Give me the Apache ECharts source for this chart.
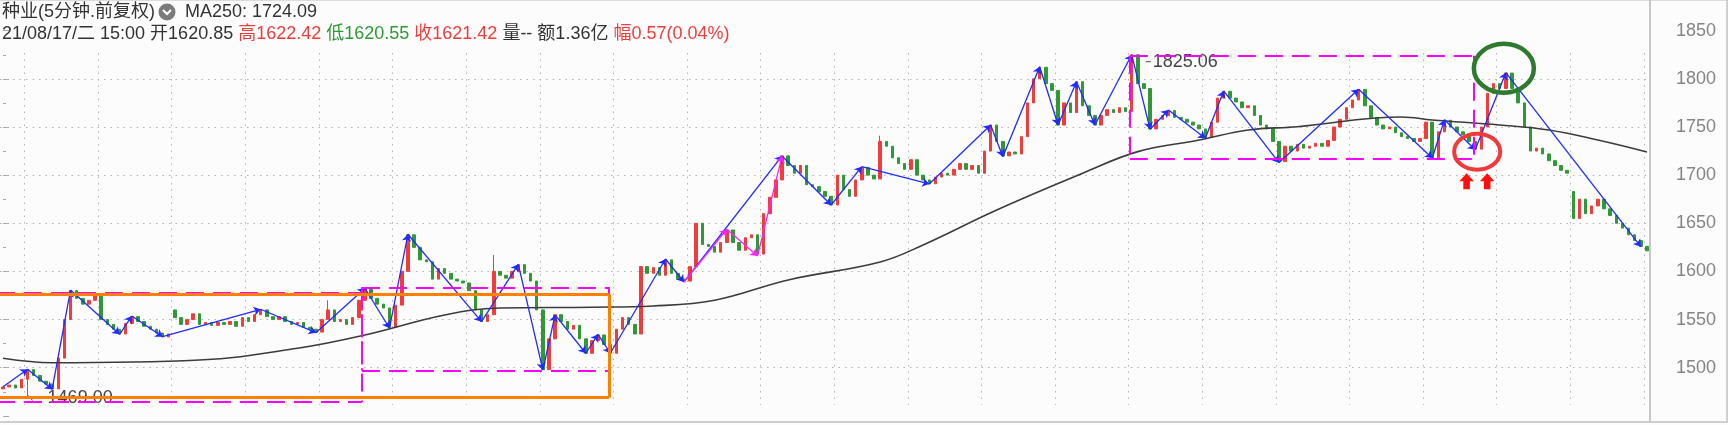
<!DOCTYPE html>
<html><head><meta charset="utf-8">
<script src="https://cdn.jsdelivr.net/npm/echarts@6.0.0/dist/echarts.min.js"></script>
<style>html,body{margin:0;padding:0;background:#fcfcfc}#c{width:1728px;height:425px}</style>
</head><body><div id="c"></div>
<script>
// ---- data (20-minute bars) ----
const firstOpen = 1478;
const closes = [
1480,1482,1479,1488,1498,1492,1486,1483,1478,1510,
1550,1580,1572,1566,1570,1576,1550,1545,1540,1535,
1546,1553,1548,1543,1540,1536,1532,1535,1552,1545,
1550,1556,1545,1547,1544,1547,1545,1548,1543,1552,
1548,1555,1560,1553,1550,1553,1548,1545,1547,1542,
1540,1537,1550,1560,1548,1550,1545,1552,1570,1582,
1572,1566,1562,1542,1565,1600,1638,1625,1612,1610,
1592,1603,1598,1592,1590,1588,1580,1560,1548,1555,
1600,1596,1593,1600,1607,1598,1590,1560,1498,1530,
1555,1548,1540,1544,1530,1515,1528,1534,1524,1515,
1540,1552,1545,1535,1605,1598,1604,1596,1612,1598,
1592,1590,1605,1650,1628,1626,1620,1630,1643,1630,
1622,1635,1638,1618,1660,1677,1695,1720,1710,1702,
1710,1690,1688,1683,1678,1669,1700,1685,1678,1695,
1708,1700,1696,1735,1730,1718,1712,1706,1716,1700,
1695,1691,1698,1702,1700,1706,1712,1706,1710,1702,
1725,1752,1735,1720,1724,1722,1740,1775,1800,1812,
1795,1788,1752,1775,1765,1797,1772,1762,1752,1762,
1768,1765,1770,1766,1825,1795,1790,1748,1758,1762,
1767,1760,1758,1755,1752,1748,1739,1755,1780,1787,
1780,1776,1770,1772,1762,1752,1748,1735,1714,1730,
1725,1732,1728,1730,1733,1730,1736,1750,1758,1770,
1778,1789,1772,1760,1752,1748,1750,1744,1740,1738,
1735,1738,1755,1718,1745,1757,1750,1745,1742,1735,
1727,1750,1785,1795,1790,1806,1790,1775,1750,1725,
1728,1722,1715,1710,1705,1702,1655,1675,1660,1668,
1675,1665,1658,1650,1645,1638,1632,1626,1621.42
];
const openOverrides = [[28,1560],[256,1683]];
const highOverrides = [[53,1570],[80,1617],[143,1741]];
const lowOverrides = [[4,1469]];

// MA250 read at sample bars
const maIdx = [0,8,32,48,59,72,81,96,106,116,128,143,150,162,176,185,195,203,211,228,233,244,252,260,268];
const maVal = [1509.8,1505.2,1508,1520.2,1534,1554.8,1562,1562.8,1564.1,1570,1591.1,1609.8,1627.5,1663.8,1701.9,1724.4,1736.5,1746.9,1750.3,1760.4,1757.3,1752.1,1746.9,1736.5,1724.09];

// blue zigzag vertices
const biIdx = [0,4,8,11,19,21,26,42,51,59,63,66,78,84,88,90,95,97,99,108,111,127,135,140,151,161,163,169,172,175,178,184,187,190,196,199,208,221,233,235,240,245,267];
const biVal = [1480.3,1498.4,1477.6,1580.7,1534.7,1553.7,1532.2,1560.7,1536.4,1582.5,1541,1638.6,1547.8,1607.4,1497.7,1554.8,1515,1534.7,1515,1612.9,1589,1719.9,1669,1708.8,1690.8,1752.1,1719.2,1812.6,1752.1,1797,1752.1,1825.06,1747.6,1767.7,1738.3,1787.4,1712.9,1789.1,1717.8,1757.6,1726.4,1806.4,1625.7];
// magenta sub-zigzag
const subIdx = [111,118,123,127];
const subVal = [1589,1643.8,1616,1720];

// boxes: [startBar, endBar, low, high]
const pinkBoxes = [[-1,58.5,1464.5,1578],[58.5,98.8,1497,1583.5],[183.7,239.8,1717,1824]];
const orangeBox = [-1,98.8,1469,1576];

const yTicks = [1500,1550,1600,1650,1700,1750,1800,1850];
const gridPrices = [1500,1550,1600,1650,1700,1750,1800];
const gridSpan = [1461.3,1826.8];
const barsPerDay = 12, firstDayStart = 4;

// ---- build ----
const N = closes.length;
const categories = closes.map((_, i) => String(i));
const oMap = new Map(openOverrides), hMap = new Map(highOverrides), lMap = new Map(lowOverrides);
const ohlc = closes.map((c, i) => {
  const o = oMap.has(i) ? oMap.get(i) : (i === 0 ? firstOpen : closes[i - 1]);
  let lo = Math.min(o, c), hi = Math.max(o, c);
  if (lMap.has(i)) lo = lMap.get(i);
  if (hMap.has(i)) hi = hMap.get(i);
  return [o, c, lo, hi];
});
const segs = (ix, vs) => ix.slice(1).map((x, k) => ({coords: [[ix[k], vs[k]], [x, vs[k + 1]]]}));
const boxEdges = (b) => {
  const e = [
    {coords: [[b[0], b[3]], [b[1], b[3]]]},
    {coords: [[b[0], b[2]], [b[1], b[2]]]},
    {coords: [[b[1], b[3]], [b[1], b[2]]]}];
  if (b[0] >= 0) e.push({coords: [[b[0], b[3]], [b[0], b[2]]]});
  return e;
};
const dayLines = [];
for (let d = firstDayStart; d < N; d += barsPerDay) dayLines.push({coords: [[d - 0.5, gridSpan[1]], [d - 0.5, gridSpan[0]]]});
const priceLines = gridPrices.map(v => ({coords: [[-0.5, v], [N - 0.5, v]]}));

const FF = "'Liberation Sans', Arial, 'Noto Sans CJK SC', sans-serif";
const RED = '#f23c3c', GREEN = '#2f9a35';
const topPrice = 1850 + 30.7 / 0.963;

const chart = echarts.init(document.getElementById('c'), null, {renderer: 'canvas'});
const ov = {coordinateSystem: 'cartesian2d', xAxisIndex: 1, yAxisIndex: 0, silent: true, symbol: ['none', 'none']};
chart.setOption({
  animation: false,
  backgroundColor: '#fcfcfc',
  grid: {left: 0, right: 78, top: 0, bottom: 425 - 415.85, containLabel: false},
  xAxis: [
    {type: 'category', data: categories, boundaryGap: true, show: true,
      axisLine: {show: false}, axisTick: {show: false}, axisLabel: {show: false}, splitLine: {show: false}},
    {type: 'value', min: -0.5, max: N - 0.5, show: false}
  ],
  yAxis: {
    type: 'value', position: 'right', min: 1450, max: topPrice, interval: 50,
    axisLine: {show: false},
    axisTick: {show: true, length: 6, lineStyle: {color: '#a8a8a8'}},
    minorTick: {show: true, splitNumber: 2, length: 3, lineStyle: {color: '#a8a8a8'}},
    axisLabel: {margin: 26, color: '#858585', fontSize: 18, fontFamily: FF,
      formatter: (v) => yTicks.includes(v) ? String(v) : ''},
    splitLine: {show: false}
  },
  series: [
    Object.assign({type: 'lines', data: priceLines, z: 1, lineStyle: {color: '#b4b4b4', width: 1, type: [1.5, 5], opacity: 1}}, ov),
    Object.assign({type: 'lines', data: dayLines, z: 1, lineStyle: {color: '#b4b4b4', width: 1, type: [1.5, 5], opacity: 1}}, ov),
    {type: 'candlestick', data: ohlc, barWidth: 3, z: 2, xAxisIndex: 0,
      itemStyle: {color: RED, color0: GREEN, borderColor: RED, borderColor0: GREEN, borderWidth: 1}},
    {type: 'line', data: maIdx.map((x, i) => [x, maVal[i]]), xAxisIndex: 1, smooth: 0.4, showSymbol: false, z: 3,
      lineStyle: {color: '#3c3c3c', width: 1.6}},
    Object.assign({type: 'lines', data: segs(biIdx, biVal), z: 4, symbol: ['none', 'arrow'], symbolSize: 7,
      lineStyle: {color: '#1f2bff', width: 1.3, opacity: 1, curveness: 0}}, ov, {symbol: ['none', 'arrow']}),
    Object.assign({type: 'lines', data: segs(subIdx, subVal), z: 4, symbolSize: 7,
      lineStyle: {color: '#ff22ff', width: 1.3, opacity: 1, curveness: 0}}, ov, {symbol: ['none', 'arrow']}),
    Object.assign({type: 'lines', data: pinkBoxes.flatMap(boxEdges), z: 6,
      lineStyle: {color: '#ff00ff', width: 2, type: [18, 9], opacity: 1}}, ov),
    Object.assign({type: 'lines', data: boxEdges(orangeBox), z: 7,
      lineStyle: {color: '#ff8000', width: 3, type: 'solid', opacity: 1}}, ov)
  ]
});

const P = (i, v) => chart.convertToPixel({xAxisIndex: 1, yAxisIndex: 0}, [i, v]);
const peak = P(184, 1825.06), low = P(4, 1469);
const gC = P(245, 1811), rC = P(240, 1724.4);
function upArrow(cx, top) {
  return {type: 'polygon', z: 30, shape: {points: [[cx, top], [cx + 7.3, top + 8], [cx + 3.3, top + 8], [cx + 3.3, top + 16], [cx - 3.3, top + 16], [cx - 3.3, top + 8], [cx - 7.3, top + 8]]}, style: {fill: '#ff1010'}};
}
chart.setOption({graphic: [
  {type: 'text', x: 2, y: 12, z: 50, style: {text: '种业(5分钟.前复权)', font: '18px ' + FF, fill: '#333', verticalAlign: 'middle'}},
  {type: 'circle', z: 50, shape: {cx: 167, cy: 12, r: 8.5}, style: {fill: '#7a7a7a'}},
  {type: 'polyline', z: 51, shape: {points: [[163, 10], [167, 14], [171, 10]]}, style: {stroke: '#fff', lineWidth: 2, fill: null}},
  {type: 'text', x: 185, y: 12, z: 50, style: {text: 'MA250: 1724.09', font: '18px ' + FF, fill: '#333', verticalAlign: 'middle'}},
  {type: 'text', x: 2, y: 34, z: 50, style: {
    text: '{d|21/08/17/二 15:00 开1620.85 }{r|高1622.42 }{g|低1620.55 }{r|收1621.42 }{d|量-- 额1.36亿 }{r|幅0.57(0.04%)}',
    font: '18px ' + FF, verticalAlign: 'middle',
    rich: {d: {fill: '#333', font: '18px ' + FF}, r: {fill: RED, font: '18px ' + FF}, g: {fill: GREEN, font: '18px ' + FF}}}},
  {type: 'line', z: 40, shape: {x1: 0, y1: 0.5, x2: 1728, y2: 0.5}, style: {stroke: '#dcdcdc', lineWidth: 1}},
  {type: 'line', z: 40, shape: {x1: 0, y1: 422, x2: 1728, y2: 422}, style: {stroke: '#cfcfcf', lineWidth: 2}},
  {type: 'line', z: 40, shape: {x1: 1650, y1: 0, x2: 1650, y2: 422}, style: {stroke: '#c8c8c8', lineWidth: 2}},
  {type: 'line', z: 40, shape: {x1: 1727, y1: 0, x2: 1727, y2: 422}, style: {stroke: '#cfcfcf', lineWidth: 2}},
  {type: 'text', x: peak[0] + 21, y: peak[1] + 7, z: 1, style: {text: '1825.06', font: '18px ' + FF, fill: '#444', verticalAlign: 'middle'}},
  {type: 'line', z: 1, shape: {x1: peak[0] + 14, y1: peak[1] + 7, x2: peak[0] + 19, y2: peak[1] + 7}, style: {stroke: '#444', lineWidth: 1}},
  {type: 'text', x: low[0] + 20, y: low[1] + 0.5, z: 1, style: {text: '1469.00', font: '18px ' + FF, fill: '#444', verticalAlign: 'middle'}},
  {type: 'line', z: 1, shape: {x1: low[0] + 1, y1: low[1] - 2, x2: low[0] + 5, y2: low[1] + 3}, style: {stroke: '#444', lineWidth: 1}},
  {type: 'ellipse', z: 30, shape: {cx: gC[0] - 2, cy: gC[1], rx: 30, ry: 24.5}, style: {fill: null, stroke: '#2e7a2e', lineWidth: 4.5}},
  {type: 'ellipse', z: 30, shape: {cx: rC[0] + 2, cy: rC[1], rx: 23, ry: 18}, style: {fill: null, stroke: '#f23a3a', lineWidth: 4}},
  upArrow(rC[0] + 2 - 10.6, rC[1] + 21.5),
  upArrow(rC[0] + 2 + 10, rC[1] + 21.5)
]});
</script></body></html>
